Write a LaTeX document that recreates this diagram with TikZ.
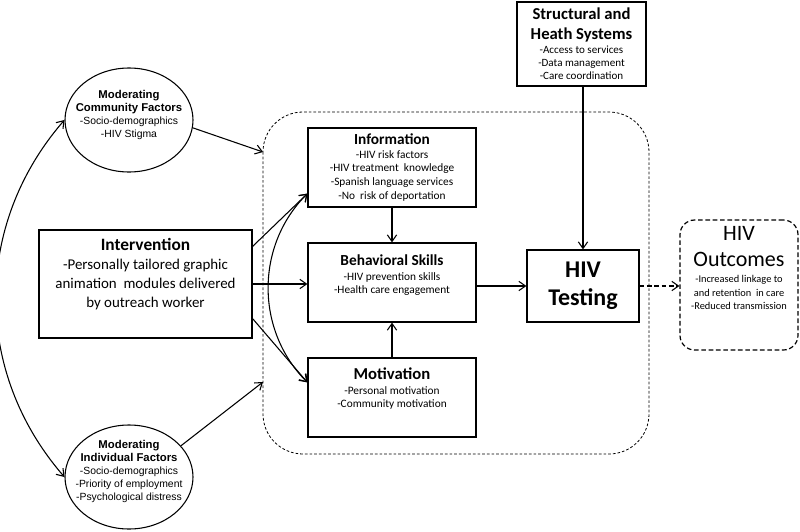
\documentclass[tikz,border=0pt]{standalone}
\usepackage{fontspec}
\setmainfont{Carlito}
\newfontfamily\bubblefont{Liberation Sans}
\usetikzlibrary{arrows.meta,positioning,shapes.geometric}

\begin{document}
\begin{tikzpicture}[x=0.75pt,y=-0.75pt,
  box/.style={draw,line width=0.9pt,rectangle,inner sep=0pt},
  bubble/.style={draw,line width=0.8pt,ellipse,inner sep=0pt,minimum width=96pt,minimum height=78pt},
  txt/.style={align=center,inner sep=0pt,font=\fontsize{8.5}{10.2}\selectfont},
  bubbletxt/.style={align=center,inner sep=0pt,font=\bubblefont\fontsize{7.8}{9.75}\selectfont},
  conn/.style={-{Straight Barb[length=5pt,width=7pt]},line width=0.8pt},
  frame/.style={draw,line width=0.6pt,dash pattern=on 2pt off 1.5pt,rounded corners=30pt}]
\useasboundingbox (0,0) rectangle (800,532);
%% dashed frame of the IMB model
\draw[frame] (263,112) rectangle (649,454);
%% boxes
\node[box,minimum width=159.75pt,minimum height=81pt] (int) at (145.5,284) {};
\node[txt,below=6.5pt of int.north,font=\fontsize{11.2}{14.3}\selectfont] (inttxt)
  {\fontsize{13}{14.3}\selectfont\bfseries Intervention\\ -Personally tailored graphic\\ animation~ modules delivered\\ by outreach worker};
\node[box,minimum width=126pt,minimum height=59.25pt,txt] (info) at (392,167.5)
  {\fontsize{11.5}{13}\selectfont\bfseries Information\\ -HIV risk factors\\ -HIV treatment~ knowledge\\ -Spanish language services\\ -No~ risk of deportation};
\node[box,minimum width=126pt,minimum height=59.25pt] (beh) at (392,282.5) {};
\node[txt,below=9pt of beh.north] (behtxt)
  {\fontsize{11.5}{13}\selectfont\bfseries Behavioral Skills\\[1pt] -HIV prevention skills\\ -Health care engagement};
\node[box,minimum width=126pt,minimum height=59.25pt] (mot) at (392,397.5) {};
\node[txt,below=7.5pt of mot.north] (mottxt)
  {\fontsize{12.5}{13}\selectfont\bfseries Motivation\\[1pt] -Personal motivation\\ -Community motivation};
\node[box,minimum width=84pt,minimum height=54pt,txt,font=\fontsize{18}{21}\selectfont\bfseries] (test) at (583,286)
  {HIV\\ Testing};
\node[box,minimum width=96.75pt,minimum height=63pt,txt,font=\fontsize{8.3}{9.75}\selectfont] (sys) at (581.5,44)
  {\fontsize{12.5}{15}\selectfont\bfseries Structural and\\[5pt] \fontsize{12.5}{15}\selectfont\bfseries Heath Systems\\[1pt]
   -Access to services\\ -Data management\\ -Care coordination};
\node[box,dash pattern=on 3.5pt off 2pt,rounded corners=11pt,minimum width=88.5pt,minimum height=97.5pt] (out) at (739,285) {};
\node[txt,below=5pt of out.north,font=\fontsize{7.8}{10}\selectfont] (outtxt)
  {\fontsize{16.5}{20}\selectfont HIV\\[8pt] \fontsize{16.5}{20}\selectfont Outcomes\\[2pt]
   -Increased linkage to\\ and retention~ in care\\ -Reduced transmission};
%% moderators
\node[bubble] (comm) at (129,120) {};
\node[bubbletxt,below=17pt of comm.north] (commtxt)
  {\fontsize{8.5}{9.75}\selectfont\bfseries Moderating\\ \fontsize{8.5}{9.75}\selectfont\bfseries Community Factors\\ -Socio-demographics\\ -HIV Stigma};
\node[bubble] (indiv) at (129,477) {};
\node[bubbletxt,below=12pt of indiv.north] (indivtxt)
  {\fontsize{8.5}{9.75}\selectfont\bfseries Moderating\\ \fontsize{8.5}{9.75}\selectfont\bfseries Individual Factors\\ -Socio-demographics\\ -Priority of employment\\ -Psychological distress};
%% arrow ends
\coordinate (infoin) at ([yshift=10.5pt]info.south west);
\coordinate (motin) at ([yshift=-18.75pt]mot.north west);
\coordinate (cin) at (263,152);
\coordinate (iin) at (263,382);
%% connectors
\draw[conn] (comm.-7) -- (cin);
\draw[conn] (indiv.31) -- (iin);
\draw[conn] ([yshift=-12.75pt]int.north east) -- (infoin);
\draw[conn] (int.east) -- (int.east -| beh.west);
\draw[conn] ([yshift=15pt]int.south east) -- (motin);
\draw[conn,{Straight Barb[length=5pt,width=7pt]}-{Straight Barb[length=5pt,width=7pt]}] (infoin) to[bend right=45] (motin);
\draw[conn,{Straight Barb[length=5pt,width=7pt]}-{Straight Barb[length=5pt,width=7pt]}] (comm.west) to[bend right=41] (indiv.west);
\draw[conn] (info.south) -- (beh.north);
\draw[conn] (mot.north) -- (beh.south);
\draw[conn] (test.west -| beh.east) -- (test.west);
\draw[conn] (test.north |- sys.south) -- (test.north);
\draw[conn,dash pattern=on 3.5pt off 2pt] (test.east) -- (test.east -| out.west);
\end{tikzpicture}
\end{document}
